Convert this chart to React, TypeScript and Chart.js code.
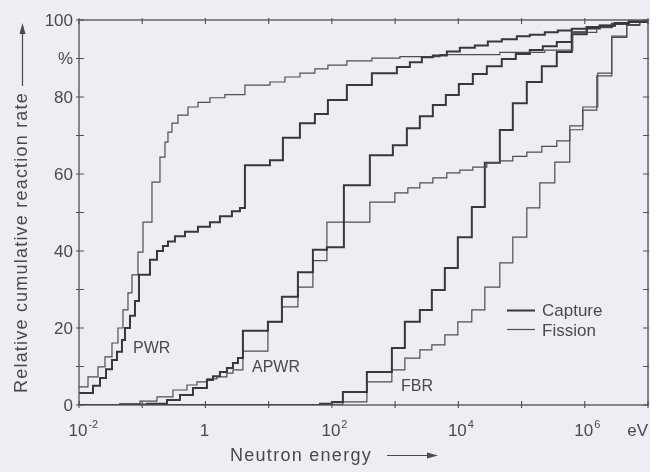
import React, { useEffect, useRef } from "react";
import { Chart, registerables } from "chart.js";

Chart.register(...registerables);

// ---- Data (energy in eV, cumulative reaction rate in %) ----
const pwrCaptureE = [0.01, 0.01665, 0.02148, 0.02673, 0.03324, 0.03988, 0.04783, 0.05337, 0.06402, 0.07679, 0.08884, 0.1326, 0.1711, 0.2129, 0.2554, 0.3294, 0.4742, 0.761, 1.178, 1.695, 2.624, 3.512, 4.212, 10.47, 16.8, 31.2, 53.86, 86.49, 172.7, 429, 1066, 1711, 2649, 3953, 6580, 10561, 18236, 29270, 48717, 84150, 135020, 233180, 374200, 623000, 1075000, 1727000, 2981000, 4963000, 10000000];
const pwrCaptureY = [3.1, 5.0, 7.0, 9.3, 11.7, 13.8, 16.9, 20.0, 23.2, 27.0, 33.8, 37.7, 40.0, 41.3, 42.5, 43.8, 45.0, 46.3, 47.5, 49.0, 50.3, 51.2, 62.3, 63.6, 69.4, 73.2, 75.6, 79.2, 83.1, 86.2, 87.8, 89.0, 90.3, 90.8, 91.8, 92.8, 93.4, 94.4, 95.0, 95.8, 96.2, 96.8, 97.3, 97.7, 98.1, 98.5, 99.0, 99.5, 99.5];

const pwrFissionE = [0.01, 0.01388, 0.01998, 0.02577, 0.03324, 0.04135, 0.04962, 0.05953, 0.06885, 0.08566, 0.1028, 0.1426, 0.1909, 0.229, 0.2554, 0.2953, 0.3674, 0.5288, 0.761, 1.178, 2.033, 4.212, 10.47, 18.07, 31.2, 53.86, 86.49, 172.7, 429, 1189, 5099, 45310, 233180, 646300, 1548000, 2673000, 4963000, 10000000];
const pwrFissionY = [4.7, 7.3, 9.9, 12.5, 16.1, 20.0, 24.7, 29.1, 33.8, 39.7, 47.5, 57.9, 64.4, 68.3, 70.9, 73.2, 75.3, 77.4, 78.6, 79.8, 80.6, 83.1, 83.9, 85.2, 86.2, 87.3, 88.3, 89.4, 90.1, 90.5, 91.0, 91.6, 92.2, 96.8, 98.0, 99.0, 99.5, 99.5];

const apwrCaptureE = [0.01, 0.04447, 0.1189, 0.2462, 0.3951, 0.6344, 1.056, 1.314, 1.695, 2.187, 2.722, 3.265, 3.916, 9.73, 16.2, 29.01, 50.07, 83.36, 154.8, 398.9, 921.4, 1534, 2462, 3953, 6345, 10183, 16952, 28222, 48717, 81140, 135020, 216770, 360800, 623000, 1075000, 1727000, 2981000, 4963000, 10000000];
const apwrCaptureY = [0, 0.1, 0.3, 1.3, 2.6, 4.4, 6.5, 7.5, 8.6, 9.6, 10.9, 12.2, 19.3, 21.6, 28.1, 34.5, 40.3, 41.0, 57.1, 64.9, 67.5, 71.9, 75.0, 77.9, 80.5, 83.4, 86.0, 88.0, 89.9, 91.2, 92.2, 93.2, 94.3, 96.3, 97.8, 98.6, 99.2, 99.6, 99.6];

const apwrFissionE = [0.01, 0.02148, 0.04447, 0.09213, 0.1711, 0.3063, 0.5099, 0.7337, 1.056, 1.52, 2.187, 2.722, 3.916, 9.73, 16.2, 29.01, 50.07, 83.36, 398.9, 990.8, 1591, 2462, 3953, 6580, 10561, 16952, 28222, 45310, 72710, 121060, 209060, 360800, 579100, 929900, 1548000, 2673000, 4613000, 7406000, 10000000];
const apwrFissionY = [0, 0.1, 0.3, 1.0, 2.1, 3.9, 5.2, 6.0, 6.8, 7.3, 8.3, 9.1, 14.0, 21.6, 25.5, 30.6, 37.5, 47.5, 52.7, 55.1, 56.4, 57.7, 59.0, 60.3, 61.0, 61.8, 62.9, 63.4, 64.6, 65.7, 67.2, 68.6, 71.5, 76.6, 85.5, 95.5, 98.6, 99.4, 99.4];

const fbrCaptureE = [0.01, 64.61, 100, 149.3, 357.6, 888.6, 1426, 2462, 3811, 6117, 9820, 16345, 26242, 45310, 72710, 121060, 209060, 360800, 623000, 1075000, 2673000, 4963000, 10000000];
const fbrCaptureY = [0, 0.3, 0.8, 3.4, 8.6, 14.8, 21.6, 24.7, 29.9, 35.6, 43.6, 51.4, 62.9, 71.4, 78.4, 83.9, 88.0, 91.7, 96.8, 98.2, 99.0, 99.6, 99.6];

const fbrFissionE = [0.01, 72.06, 149.3, 357.6, 888.6, 1426, 2462, 3811, 6117, 9820, 16345, 26242, 45310, 72710, 121060, 194300, 335700, 579100, 929900, 1605000, 2673000, 4613000, 7406000, 10000000];
const fbrFissionY = [0, 0.2, 0.8, 6.0, 9.1, 12.2, 14.3, 15.6, 18.2, 21.6, 24.7, 30.6, 36.9, 43.6, 51.2, 57.7, 63.1, 72.5, 77.4, 86.2, 95.8, 98.8, 99.5, 99.5];

// ---- Axis ticks ----
const xTickValues = [1e-2, 1e-1, 1, 1e1, 1e2, 1e3, 1e4, 1e5, 1e6, 1e7];
const xTickBase = ["10", "", "1", "", "10", "", "10", "", "10", "eV"];
const xTickExp = ["-2", "", "", "", "2", "", "4", "", "6", ""];
const yTickValues = [0, 10, 20, 30, 40, 50, 60, 70, 80, 90, 100];
const yTickLabels = ["0", "", "20", "", "40", "", "60", "", "80", "%", "100"];

const curveLabels = ["PWR", "APWR", "FBR"];
const legendLabels = ["Capture", "Fission"];
const yTitle = "Relative cumulative reaction rate";
const xTitle = "Neutron energy";

const BG = "#eceef3";
const INK = "#4a4a4a";
const LINE_DARK = "#383838";
const LINE_THIN = "#4e4e4e";
const FONT = "'Liberation Sans', Arial, Helvetica, sans-serif";

function toPoints(e: number[], y: number[]) {
  return e.map((v, i) => ({ x: v, y: y[i] }));
}

const decorPlugin = {
  id: "decor",
  beforeDraw(chart: any) {
    const ctx = chart.ctx;
    ctx.save();
    ctx.fillStyle = BG;
    ctx.fillRect(0, 0, chart.width, chart.height);
    ctx.restore();
  },
  afterDraw(chart: any) {
    const ctx = chart.ctx as CanvasRenderingContext2D;
    const a = chart.chartArea;
    const xs = chart.scales.x;
    const ys = chart.scales.y;
    ctx.save();
    ctx.strokeStyle = "#505050";
    ctx.lineWidth = 1.3;
    ctx.strokeRect(a.left, a.top, a.right - a.left, a.bottom - a.top);

    // ticks
    ctx.lineWidth = 1.1;
    ctx.beginPath();
    xTickValues.forEach((v) => {
      const px = xs.getPixelForValue(v);
      ctx.moveTo(px, a.bottom - 4);
      ctx.lineTo(px, a.bottom + 3);
      ctx.moveTo(px, a.top - 2);
      ctx.lineTo(px, a.top + 4);
    });
    yTickValues.forEach((v) => {
      const py = ys.getPixelForValue(v);
      ctx.moveTo(a.left - 3, py);
      ctx.lineTo(a.left + 5, py);
      ctx.moveTo(a.right - 5, py);
      ctx.lineTo(a.right + 1, py);
    });
    ctx.stroke();

    // y tick labels
    ctx.fillStyle = INK;
    ctx.font = `17px ${FONT}`;
    ctx.textAlign = "right";
    ctx.textBaseline = "middle";
    yTickValues.forEach((v, i) => {
      if (!yTickLabels[i]) return;
      ctx.fillText(yTickLabels[i], a.left - 6, ys.getPixelForValue(v) + 1);
    });

    // x tick labels with superscripts
    ctx.textBaseline = "alphabetic";
    xTickValues.forEach((v, i) => {
      const base = xTickBase[i];
      if (!base) return;
      const px = xs.getPixelForValue(v);
      ctx.font = `17px ${FONT}`;
      if (base === "eV") {
        ctx.textAlign = "right";
        ctx.fillText(base, px, a.bottom + 31);
        return;
      }
      ctx.textAlign = "center";
      ctx.fillText(base, px - 1, a.bottom + 31);
      const w = ctx.measureText(base).width;
      if (xTickExp[i]) {
        ctx.font = `11px ${FONT}`;
        ctx.textAlign = "left";
        ctx.fillText(xTickExp[i], px - 1 + w / 2 + 1, a.bottom + 23);
      }
    });

    // y title (rotated) with arrow
    ctx.save();
    ctx.font = `18px ${FONT}`;
    const yW = ctx.measureText(yTitle).width;
    (ctx as any).letterSpacing = `${Math.max(0, (301 - yW) / yTitle.length)}px`;
    ctx.translate(22, 393);
    ctx.rotate(-Math.PI / 2);
    ctx.textAlign = "left";
    ctx.textBaseline = "middle";
    ctx.fillText(yTitle, 0, 0);
    ctx.restore();
    ctx.strokeStyle = INK;
    ctx.lineWidth = 1.2;
    ctx.beginPath();
    ctx.moveTo(22.5, 86);
    ctx.lineTo(22.5, 30);
    ctx.stroke();
    ctx.beginPath();
    ctx.moveTo(22.5, 23);
    ctx.lineTo(19.5, 34);
    ctx.lineTo(25.5, 34);
    ctx.closePath();
    ctx.fill();

    // x title with arrow
    ctx.save();
    ctx.font = `18px ${FONT}`;
    const xW = ctx.measureText(xTitle).width;
    (ctx as any).letterSpacing = `${Math.max(0, (142 - xW) / xTitle.length)}px`;
    ctx.textAlign = "left";
    ctx.textBaseline = "alphabetic";
    ctx.fillText(xTitle, 230, 461);
    ctx.restore();
    ctx.beginPath();
    ctx.moveTo(387, 455.5);
    ctx.lineTo(430, 455.5);
    ctx.stroke();
    ctx.beginPath();
    ctx.moveTo(438, 455.5);
    ctx.lineTo(427, 452.5);
    ctx.lineTo(427, 458.5);
    ctx.closePath();
    ctx.fill();

    // curve labels
    ctx.font = `16px ${FONT}`;
    ctx.textAlign = "left";
    ctx.textBaseline = "middle";
    ctx.fillText(curveLabels[0], 133, 349);
    ctx.fillText(curveLabels[1], 252, 368);
    ctx.fillText(curveLabels[2], 401, 387);

    // legend
    ctx.font = `17px ${FONT}`;
    ctx.strokeStyle = LINE_DARK;
    ctx.lineWidth = 2;
    ctx.beginPath();
    ctx.moveTo(507, 310.5);
    ctx.lineTo(535, 310.5);
    ctx.stroke();
    ctx.strokeStyle = LINE_THIN;
    ctx.lineWidth = 1.2;
    ctx.beginPath();
    ctx.moveTo(507, 329.5);
    ctx.lineTo(535, 329.5);
    ctx.stroke();
    ctx.fillText(legendLabels[0], 542, 311);
    ctx.fillText(legendLabels[1], 542, 331);
    ctx.restore();
  },
};

export default function App() {
  const ref = useRef<HTMLCanvasElement | null>(null);
  useEffect(() => {
    document.body.style.margin = "0";
    document.body.style.background = BG;
    const canvas = ref.current!;
    const thick = { borderColor: LINE_DARK, borderWidth: 2 };
    const thin = { borderColor: LINE_THIN, borderWidth: 1.2 };
    const common = { stepped: true, pointRadius: 0, fill: false, tension: 0 };
    const chart = new Chart(canvas, {
      type: "line",
      data: {
        datasets: [
          { label: "PWR Capture", data: toPoints(pwrCaptureE, pwrCaptureY), ...common, ...thick },
          { label: "PWR Fission", data: toPoints(pwrFissionE, pwrFissionY), ...common, ...thin },
          { label: "APWR Capture", data: toPoints(apwrCaptureE, apwrCaptureY), ...common, ...thick },
          { label: "APWR Fission", data: toPoints(apwrFissionE, apwrFissionY), ...common, ...thin },
          { label: "FBR Capture", data: toPoints(fbrCaptureE, fbrCaptureY), ...common, ...thick },
          { label: "FBR Fission", data: toPoints(fbrFissionE, fbrFissionY), ...common, ...thin },
        ] as any,
      },
      options: {
        responsive: false,
        animation: false,
        layout: { padding: { left: 79, right: 2, top: 20, bottom: 67 } },
        plugins: { legend: { display: false }, tooltip: { enabled: false } },
        scales: {
          x: { type: "logarithmic", min: 1e-2, max: 1e7, display: false },
          y: { type: "linear", min: 0, max: 100, display: false },
        },
      },
      plugins: [decorPlugin],
    });
    return () => chart.destroy();
  }, []);
  return (
    <div style={{ width: 650, height: 472 }}>
      <canvas ref={ref} width={650} height={472} style={{ display: "block" }} />
    </div>
  );
}
